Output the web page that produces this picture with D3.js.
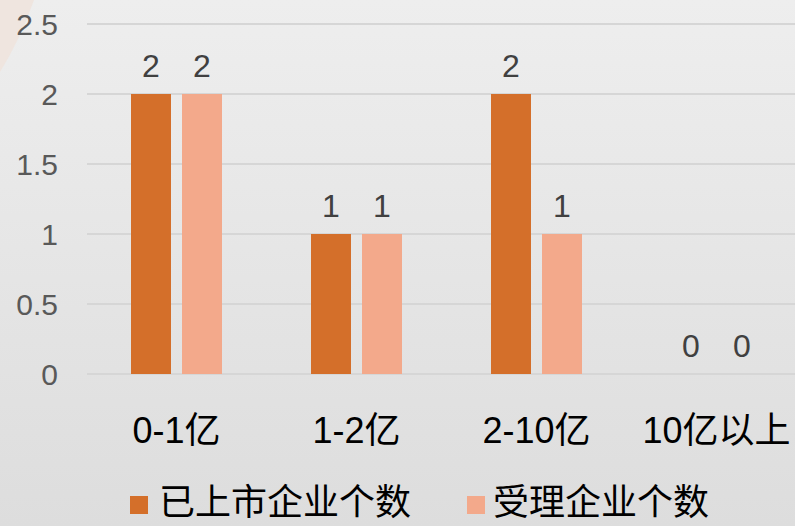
<!DOCTYPE html>
<html><head><meta charset="utf-8">
<script src="https://cdn.jsdelivr.net/npm/d3@7"></script>
<style>html,body{margin:0;padding:0;overflow:hidden;background:#e6e6e6}</style>
</head><body>
<svg id="c" width="795" height="526"></svg>
<script>
const categories = ["0-1亿", "1-2亿", "2-10亿", "10亿以上"];
const seriesNames = ["已上市企业个数", "受理企业个数"];
const listedValues = [2, 1, 2, 0];
const acceptedValues = [2, 1, 1, 0];
const yTicks = [0, 0.5, 1, 1.5, 2, 2.5];
const colors = ["#D46F2A", "#F3A98B"];

const svg = d3.select("#c");
const W = 795, H = 526;
const defs = svg.append("defs");
const g = defs.append("linearGradient").attr("id","bg").attr("x1",0).attr("y1",0).attr("x2",0).attr("y2",1);
g.append("stop").attr("offset","0%").attr("stop-color","#EEEEEE");
g.append("stop").attr("offset","100%").attr("stop-color","#DDDDDD");
svg.append("rect").attr("width",W).attr("height",H).attr("fill","url(#bg)");
svg.append("path").attr("d","M0,0 L34,0 Q20,40 0,72 Z").attr("fill","#EFE5DF");

const y = d3.scaleLinear().domain([0, 2.5]).range([374, 24]);
const x0 = d3.scaleBand().domain(categories).range([86.5, 806.5]).paddingInner(89/180).paddingOuter(89/360);
const x1 = d3.scaleBand().domain(seriesNames).range([0, x0.bandwidth()]).paddingInner(2 - 91/51);

// gridlines
svg.append("g").selectAll("line").data(yTicks).join("line")
  .attr("x1", 87).attr("x2", W).attr("y1", d => y(d)).attr("y2", d => y(d))
  .attr("stroke", "#D6D6D6").attr("stroke-width", 2);

// y axis labels
const yAxis = d3.axisLeft(y).tickValues(yTicks).tickSize(0).tickPadding(0).tickFormat(d => d);
const ya = svg.append("g").attr("transform","translate(58,0)").call(yAxis);
ya.select(".domain").remove();
ya.selectAll("text").attr("font-family","'Liberation Sans', Arial, sans-serif").attr("font-size",30).attr("fill","#595959").attr("dy","0.36em");

const data = categories.map((c,i) => ({cat:c, vals:[listedValues[i], acceptedValues[i]]}));
const groups = svg.append("g").selectAll("g").data(data).join("g")
  .attr("transform", d => `translate(${x0(d.cat)},0)`);
groups.selectAll("rect").data(d => d.vals.map((v,j)=>({s:seriesNames[j], v, j}))).join("rect")
  .attr("x", d => x1(d.s)).attr("width", x1.bandwidth())
  .attr("y", d => y(d.v)).attr("height", d => y(0) - y(d.v))
  .attr("fill", d => colors[d.j]);
groups.selectAll("text").data(d => d.vals.map((v,j)=>({s:seriesNames[j], v, j}))).join("text")
  .attr("x", d => x1(d.s) + x1.bandwidth()/2).attr("y", d => y(d.v) - 17)
  .attr("text-anchor","middle").attr("font-family","'Liberation Sans', Arial, sans-serif")
  .attr("font-size",32).attr("fill","#404040").text(d => d.v);

// x axis labels
const xAxis = d3.axisBottom(x0).tickSize(0).tickPadding(0);
const xa = svg.append("g").attr("transform","translate(0,443)").call(xAxis);
xa.select(".domain").remove();
xa.selectAll("text").attr("font-family","'Liberation Sans', 'Noto Sans CJK SC', sans-serif").attr("font-size",36).attr("fill","#000").attr("dy",0);

// legend
const legX = [130, 467];
const leg = svg.append("g").selectAll("g").data(seriesNames).join("g")
  .attr("transform", (d,i) => `translate(${legX[i]},0)`);
leg.append("rect").attr("x",0).attr("y",496).attr("width",18).attr("height",18).attr("fill",(d,i)=>colors[i]);
leg.append("text").attr("x",(d,i)=> i===0 ? 29 : 26).attr("y",515)
  .attr("font-family","'Noto Sans CJK SC', sans-serif").attr("font-size",36).attr("fill","#000").text(d=>d);
</script>
</body></html>
